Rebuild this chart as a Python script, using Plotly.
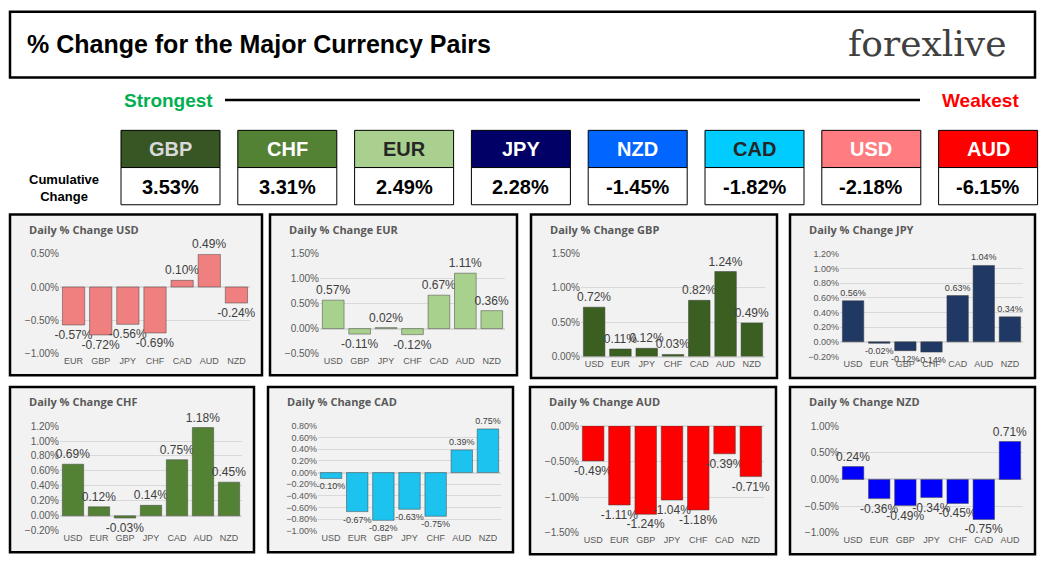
import plotly.graph_objects as go

W, H = 1045, 575

# cumulative strength table
top_ccys = ["GBP", "CHF", "EUR", "JPY", "NZD", "CAD", "USD", "AUD"]
top_values = [3.53, 3.31, 2.49, 2.28, -1.45, -1.82, -2.18, -6.15]
top_colors = ["#375623", "#548235", "#a9d08e", "#000066", "#0066ff", "#00ccff", "#ff7c80", "#ff0000"]
top_text_colors = ["#d9d9d9", "white", "#262626", "white", "white", "#262626", "white", "white"]

# daily panels
usd_cats = ["EUR", "GBP", "JPY", "CHF", "CAD", "AUD", "NZD"]
usd_vals = [-0.57, -0.72, -0.56, -0.69, 0.10, 0.49, -0.24]
eur_cats = ["USD", "GBP", "JPY", "CHF", "CAD", "AUD", "NZD"]
eur_vals = [0.57, -0.11, 0.02, -0.12, 0.67, 1.11, 0.36]
gbp_cats = ["USD", "EUR", "JPY", "CHF", "CAD", "AUD", "NZD"]
gbp_vals = [0.72, 0.11, 0.12, 0.03, 0.82, 1.24, 0.49]
jpy_cats = ["USD", "EUR", "GBP", "CHF", "CAD", "AUD", "NZD"]
jpy_vals = [0.56, -0.02, -0.12, -0.14, 0.63, 1.04, 0.34]
chf_cats = ["USD", "EUR", "GBP", "JPY", "CAD", "AUD", "NZD"]
chf_vals = [0.69, 0.12, -0.03, 0.14, 0.75, 1.18, 0.45]
cad_cats = ["USD", "EUR", "GBP", "JPY", "CHF", "AUD", "NZD"]
cad_vals = [-0.10, -0.67, -0.82, -0.63, -0.75, 0.39, 0.75]
aud_cats = ["USD", "EUR", "GBP", "JPY", "CHF", "CAD", "NZD"]
aud_vals = [-0.49, -1.11, -1.24, -1.04, -1.18, -0.39, -0.71]
nzd_cats = ["USD", "EUR", "GBP", "JPY", "CHF", "CAD", "AUD"]
nzd_vals = [0.24, -0.36, -0.49, -0.34, -0.45, -0.75, 0.71]

# name, cats, vals, color, box(px l,t,r,b), y range, dtick, label size, tick size
panels = [
    ("USD", usd_cats, usd_vals, "#f08080", (10, 213, 262, 377), (-1.0, 0.5), 0.5, 12, 10),
    ("EUR", eur_cats, eur_vals, "#a9d18e", (270, 213, 517, 377), (-0.5, 1.5), 0.5, 12, 10),
    ("GBP", gbp_cats, gbp_vals, "#3a5f20", (531, 213, 777, 380), (0.0, 1.5), 0.5, 12, 10),
    ("JPY", jpy_cats, jpy_vals, "#203864", (790, 213, 1035, 380), (-0.2, 1.2), 0.2, 9, 9),
    ("CHF", chf_cats, chf_vals, "#548235", (10, 389, 254, 558), (-0.2, 1.2), 0.2, 12, 10),
    ("CAD", cad_cats, cad_vals, "#1cc3ef", (268, 389, 513, 558), (-1.0, 0.8), 0.2, 9, 9),
    ("AUD", aud_cats, aud_vals, "#ff0000", (530, 389, 776, 560), (-1.5, 0.0), 0.5, 12, 10),
    ("NZD", nzd_cats, nzd_vals, "#0000ff", (790, 389, 1035, 560), (-1.0, 1.0), 0.5, 12, 10),
]

NARROW = "Liberation Sans Narrow, Arial Narrow, Liberation Sans"


def px(x):
    return x / W


def py(y):
    return 1 - y / H


def note(x, y, text, size, color, xanchor="center", family=NARROW):
    return dict(x=px(x), y=py(y), xref="paper", yref="paper", text=text, showarrow=False,
                xanchor=xanchor, yanchor="middle", font=dict(size=size, color=color, family=family))


fig = go.Figure()
shapes = []
annotations = []

# header box
shapes.append(dict(type="rect", xref="paper", yref="paper", x0=px(10), x1=px(1035), y0=py(73), y1=py(6),
                   line=dict(color="black", width=2.5), fillcolor="white", layer="below"))
annotations.append(note(25, 39, "<b>% Change for the Major Currency Pairs</b>", 25, "black", "left"))
annotations.append(note(1008, 38, "forexlive", 36, "#404040", "right", "DejaVu Serif"))

# strongest / weakest
annotations.append(note(168, 97, "<b>Strongest</b>", 19, "#00b050"))
annotations.append(note(980, 97, "<b>Weakest</b>", 19, "#ff0000"))
shapes.append(dict(type="line", xref="paper", yref="paper", x0=px(225), x1=px(920), y0=py(96), y1=py(96),
                   line=dict(color="black", width=2.5)))
annotations.append(note(64, 186, "<b>Cumulative<br>Change</b>", 13, "black"))

for i, (c, v) in enumerate(zip(top_ccys, top_values)):
    x0 = 121 + i * 116.8
    x1 = x0 + 99
    shapes.append(dict(type="rect", xref="paper", yref="paper", x0=px(x0), x1=px(x1), y0=py(165), y1=py(127),
                       line=dict(color="black", width=1), fillcolor=top_colors[i]))
    shapes.append(dict(type="rect", xref="paper", yref="paper", x0=px(x0), x1=px(x1), y0=py(203), y1=py(165),
                       line=dict(color="black", width=1), fillcolor="white"))
    annotations.append(note((x0 + x1) / 2, 146, f"<b>{c}</b>", 20, top_text_colors[i]))
    annotations.append(note((x0 + x1) / 2, 185, f"<b>{v:.2f}%</b>", 20, "black"))

layout_axes = {}
for k, (name, cats, vals, color, box, yr, dt, lsize, tsize) in enumerate(panels):
    l, t, r, b = box
    n = "" if k == 0 else str(k + 1)
    shapes.append(dict(type="rect", xref="paper", yref="paper", x0=px(l), x1=px(r), y0=py(b), y1=py(t),
                       line=dict(color="black", width=2.5), fillcolor="#f2f2f2", layer="below"))
    annotations.append(note(l + 17, t + 15, f"<b>Daily % Change {name}</b>", 11, "#595959", "left", "Open Sans"))
    fig.add_trace(go.Bar(x=cats, y=vals, xaxis="x" + n, yaxis="y" + n,
                         marker=dict(color=color, line=dict(color="#404040", width=0.5)),
                         texttemplate="%{y:.2f}%", textposition="outside", cliponaxis=False,
                         constraintext="none",
                         textfont=dict(size=lsize, color="#404040"), width=0.82, showlegend=False))
    layout_axes["xaxis" + n] = dict(domain=[px(l + 50), px(r - 12)], anchor="y" + n, showgrid=False, zeroline=False,
                                    tickfont=dict(size=9, color="#595959"), showline=False, ticks="")
    layout_axes["yaxis" + n] = dict(domain=[py(b - 22), py(t + 40)], anchor="x" + n, range=list(yr), dtick=dt,
                                    tickformat=".2f", ticksuffix="%", gridcolor="#d9d9d9", zeroline=True,
                                    zerolinecolor="#d9d9d9", tickfont=dict(size=tsize, color="#595959"))

fig.update_layout(width=W, height=H, margin=dict(l=0, r=0, t=0, b=0), paper_bgcolor="white",
                  plot_bgcolor="rgba(0,0,0,0)", shapes=shapes, annotations=annotations,
                  font=dict(family="Liberation Sans"), **layout_axes)
fig.write_html("out.html", config={"displayModeBar": False},
               post_script="document.body.style.margin='0';document.body.style.overflow='hidden';")
